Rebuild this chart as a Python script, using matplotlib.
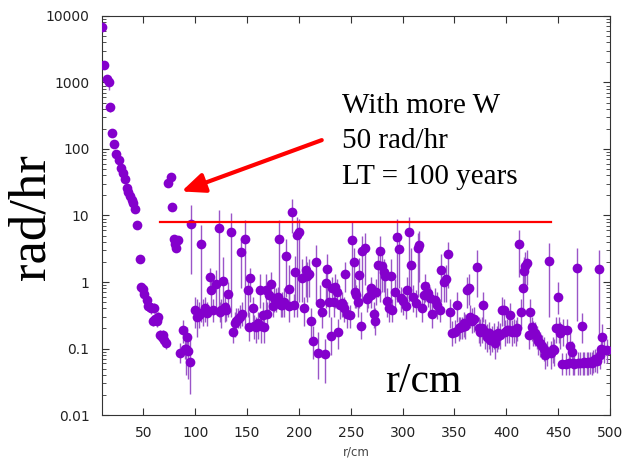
import numpy as np
import matplotlib.pyplot as plt

# dose rate vs radius (r in cm, rate in rad/hr, error bar low/high)
r_cm = [10, 12, 14.5, 16.7, 17.7, 20, 22, 24, 26, 28, 30.5, 32, 33.7, 35, 37, 38.5, 40, 42, 44, 46.5,
        48, 49.7, 51, 53, 54.5, 56, 57.5, 59, 60.5, 61.5, 63, 64.5, 66, 67.5, 69, 70, 71.5,
        73.8, 76.3, 77.6, 79, 80.5, 81.5, 83,
        85.5, 88, 89.8, 91, 92, 93, 95,
        96, 99.5, 102, 104, 105.7, 107, 109, 111, 114, 115.5, 117, 120, 122.8, 123.5, 125, 127, 128.5,
        130, 131.5, 134, 136, 138, 139.5, 141, 142.7, 144, 145, 147.5, 150.7, 152, 153, 155.5, 157,
        158.7, 160.5, 162, 163.5, 165, 166, 168, 169.5, 171.5, 173, 174.7, 176, 177.5, 179.5, 181,
        182.7, 184, 185.5, 187.5, 190, 190.8, 193.3, 195.6, 196.5, 197.8, 200, 203, 205, 207, 208,
        209.5, 211.6, 213.8, 216.5, 218, 220, 222.7, 225.4, 226, 227.5, 229, 230.8, 231.7, 233.5,
        235, 236.5, 238, 239.5, 241.3, 243, 244.6, 246.8, 249, 251, 253, 254.5, 255.5, 257, 258,
        259.6, 261, 263.8, 265.5, 267, 269.3, 270, 272, 273, 274.5, 276.5, 278, 280.5, 282, 283.5,
        285.3, 287, 288.5, 290, 292.7, 295, 296.5, 298.7, 300.7, 303, 304.5, 306, 308.5, 310.3,
        312.5, 315, 316.3, 318.3, 320.6, 322, 324.6, 326.3, 328.6, 330.8, 333.3, 336, 337.5, 339.8,
        341.4, 344, 345.6, 347.8, 350.4, 352.6, 354, 355.8, 357, 359, 360.6, 362.2, 364, 365.5, 367,
        369, 372, 373.5, 375, 376.5, 378, 379.5, 381.5, 383, 384.6, 386, 388, 389.4, 391, 392.5,
        394, 395.8, 397.5, 399, 400.5, 402.3, 404, 405.5, 407, 409.2, 410.5, 412, 414.5, 415.8,
        416.7, 418.3, 420, 421.5, 423, 424.6, 426, 427.5, 429.5, 431, 432.6, 434.5, 436, 437.5,
        439, 441.4, 443.3, 445, 446.5, 448, 449.7, 451, 452, 453.5, 455, 457.3, 459, 460.5, 461.6,
        463, 464.5, 465.8, 468, 469.6, 471, 472.7, 474, 475.3, 477.6, 479, 480.8, 482.5, 484,
        485.5, 487.2, 489, 490, 491.3, 492.7, 494.6, 496.8]

rate = [6800, 1830, 1130, 1000, 433, 172, 119, 84, 68, 51, 43, 35, 25.6, 22.8, 19.6, 17.1, 15.2, 12.4, 7.2, 2.25,
        0.85, 0.78, 0.66, 0.54, 0.44, 0.42, 0.40, 0.26, 0.41, 0.28, 0.26, 0.30, 0.16, 0.15, 0.16, 0.135, 0.12,
        30.5, 38, 13.3, 4.5, 3.7, 3.2, 4.3,
        0.086, 0.19, 0.097, 0.10, 0.15, 0.093, 0.063,
        7.4, 0.38, 0.30, 0.32, 3.7, 0.36, 0.41, 0.34, 1.18, 0.76, 0.38, 0.93, 6.4, 0.35, 0.38, 1.02, 0.42,
        0.38, 0.67, 5.7, 0.18, 0.24, 0.26, 0.28, 0.30, 2.86, 0.33, 4.5, 0.76, 0.21, 1.13, 0.41, 0.22,
        0.21, 0.24, 0.76, 0.22, 0.32, 0.21, 0.76, 0.33, 0.64, 0.93, 0.43, 0.57, 0.55, 0.60, 4.5,
        0.45, 0.45, 0.50, 2.46, 0.78, 0.43, 11.4, 0.45, 1.43, 5.1, 5.7, 1.16, 0.40, 1.51, 1.21,
        1.34, 0.26, 0.13, 2.0, 0.086, 0.49, 0.35, 0.083, 0.95, 1.55, 0.50, 0.155, 0.81, 0.50,
        0.83, 0.71, 0.18, 0.45, 0.49, 0.40, 1.34, 0.33, 0.32, 4.3, 2.0, 0.70, 0.64, 0.50, 1.26,
        0.22, 2.9, 3.3, 0.55, 0.60, 0.64, 0.81, 0.33, 0.26, 0.71, 1.8, 2.9, 1.75, 1.40, 1.21,
        0.52, 0.40, 1.21, 0.38, 0.71, 4.8, 3.1, 0.57, 0.52, 0.43, 0.76, 5.7, 1.8, 0.60,
        0.49, 3.2, 3.6, 0.40, 0.64, 0.88, 0.68, 0.57, 0.33, 0.54, 0.45, 0.38, 1.51, 1.01,
        1.1, 2.6, 0.36, 0.17, 0.18, 0.45, 0.20, 0.21, 0.21, 0.24, 0.22, 0.76, 0.80, 0.30, 0.26,
        0.28, 1.7, 0.20, 0.18, 0.20, 0.45, 0.18, 0.15, 0.17, 0.135, 0.15, 0.16, 0.12, 0.15, 0.17,
        0.16, 0.38, 0.38, 0.18, 0.19, 0.19, 0.32, 0.18, 0.19, 0.18, 0.20, 3.7, 0.35, 0.81,
        1.48, 1.75, 1.95, 0.16, 0.36, 0.21, 0.18, 0.17, 0.15, 0.13, 0.12, 0.11, 0.10, 0.08,
        0.09, 2.1, 0.087, 0.10, 0.095, 0.20, 0.59, 0.20, 0.17, 0.058, 0.19, 0.058, 0.19, 0.06, 0.11,
        0.09, 0.06, 0.058, 1.6, 0.06, 0.06, 0.22, 0.06, 0.062, 0.06, 0.062, 0.063, 0.06, 0.065,
        0.07, 0.065, 1.55, 0.08, 0.10, 0.15, 0.095, 0.095]

rate_lo = [6200, 1650, 1000, 780, 360, 150, 108, 77, 62, 47, 39, 32, 23.5, 21, 18, 15.8, 14, 11.4, 6.6, 2.0,
           0.76, 0.70, 0.58, 0.47, 0.37, 0.35, 0.33, 0.22, 0.34, 0.23, 0.21, 0.25, 0.13, 0.125, 0.13, 0.11, 0.10,
           28, 35, 12.2, 4.1, 3.3, 2.8, 3.9,
           0.06, 0.12, 0.07, 0.04, 0.10, 0.035, 0.021,
           1.3, 0.2, 0.15, 0.2, 0.25, 0.22, 0.25, 0.22, 0.7, 0.4, 0.25, 0.35, 0.3, 0.25, 0.2, 0.4, 0.25,
           0.26, 0.3, 0.3, 0.12, 0.15, 0.18, 0.2, 0.2, 0.8, 0.22, 0.2, 0.3, 0.13, 0.5, 0.2, 0.14,
           0.12, 0.14, 0.4, 0.12, 0.2, 0.12, 0.35, 0.2, 0.3, 0.5, 0.3, 0.35, 0.35, 0.4, 0.4,
           0.3, 0.3, 0.3, 0.6, 0.4, 0.25, 5.5, 0.3, 0.5, 0.3, 0.5, 0.5, 0.22, 0.6, 0.5,
           0.6, 0.15, 0.07, 0.5, 0.035, 0.3, 0.2, 0.03, 0.4, 0.5, 0.3, 0.08, 0.5, 0.3,
           0.4, 0.4, 0.1, 0.28, 0.3, 0.25, 0.7, 0.2, 0.2, 0.7, 0.8, 0.4, 0.4, 0.3, 0.4,
           0.14, 0.5, 0.9, 0.35, 0.4, 0.4, 0.5, 0.2, 0.16, 0.45, 0.6, 0.5, 0.7, 0.7, 0.6,
           0.3, 0.25, 0.5, 0.25, 0.4, 0.5, 0.8, 0.35, 0.32, 0.28, 0.4, 0.5, 0.6, 0.35,
           0.3, 0.6, 1.0, 0.25, 0.4, 0.5, 0.42, 0.35, 0.2, 0.35, 0.28, 0.25, 0.5, 0.5,
           0.5, 0.8, 0.2, 0.11, 0.12, 0.25, 0.13, 0.14, 0.14, 0.15, 0.14, 0.4, 0.45, 0.2, 0.17,
           0.18, 0.6, 0.12, 0.11, 0.12, 0.25, 0.1, 0.09, 0.1, 0.08, 0.09, 0.1, 0.07, 0.09, 0.1,
           0.1, 0.22, 0.22, 0.11, 0.12, 0.12, 0.2, 0.11, 0.12, 0.11, 0.13, 1.2, 0.2, 0.4,
           0.7, 0.8, 0.9, 0.1, 0.2, 0.13, 0.11, 0.11, 0.1, 0.08, 0.075, 0.07, 0.065, 0.05,
           0.055, 0.3, 0.05, 0.06, 0.055, 0.12, 0.33, 0.12, 0.1, 0.04, 0.11, 0.04, 0.11, 0.04, 0.06,
           0.055, 0.04, 0.04, 0.26, 0.04, 0.04, 0.12, 0.04, 0.04, 0.04, 0.04, 0.042, 0.04, 0.043,
           0.045, 0.043, 0.135, 0.05, 0.065, 0.09, 0.06, 0.06]

rate_hi = [7300, 2000, 1300, 1100, 480, 195, 130, 92, 74, 56, 47, 38, 28, 25, 21.5, 18.5, 16.5, 13.4, 7.8, 2.5,
           0.95, 0.88, 0.75, 0.62, 0.52, 0.5, 0.48, 0.31, 0.49, 0.34, 0.32, 0.36, 0.19, 0.18, 0.19, 0.16, 0.145,
           33, 41, 14.5, 4.9, 4.1, 3.5, 4.7,
           0.12, 0.27, 0.14, 0.17, 0.21, 0.15, 0.15,
           14.4, 0.6, 0.55, 0.5, 7.1, 0.55, 0.6, 0.5, 1.6, 1.1, 0.55, 1.5, 12, 0.5, 0.55, 2.4, 0.6,
           0.5, 1.0, 11, 0.26, 0.35, 0.4, 0.4, 0.45, 4.6, 0.5, 8.5, 1.1, 0.35, 1.6, 0.6, 0.32,
           0.3, 0.35, 1.3, 0.32, 0.5, 0.3, 1.3, 0.5, 1.0, 1.4, 0.6, 0.9, 0.8, 0.85, 8.5,
           0.65, 0.7, 0.8, 4.5, 1.8, 0.7, 18, 0.65, 2.5, 9.5, 9.0, 2.2, 0.6, 2.5, 2.0,
           2.2, 0.4, 0.22, 3.6, 0.18, 0.9, 0.55, 0.14, 1.6, 2.6, 0.8, 0.3, 1.2, 0.8,
           1.3, 1.1, 0.28, 0.65, 0.7, 0.6, 2.0, 0.5, 0.45, 8.0, 3.2, 1.1, 0.9, 0.75, 2.3,
           0.35, 5.0, 5.5, 0.8, 0.9, 1.0, 1.2, 0.5, 0.4, 1.1, 3.2, 5.0, 2.8, 2.2, 2.0,
           0.8, 0.6, 2.2, 0.55, 1.1, 9.0, 5.5, 0.85, 0.8, 0.62, 1.2, 9.5, 3.3, 0.9,
           0.75, 5.5, 5.8, 0.6, 1.0, 1.3, 1.0, 0.85, 0.5, 0.8, 0.7, 0.55, 2.6, 1.6,
           1.8, 4.0, 0.55, 0.26, 0.27, 0.7, 0.3, 0.3, 0.3, 0.35, 0.33, 1.2, 1.3, 0.45, 0.4,
           0.42, 3.0, 0.3, 0.28, 0.3, 0.7, 0.28, 0.23, 0.25, 0.2, 0.22, 0.24, 0.18, 0.22, 0.26,
           0.24, 0.6, 0.55, 0.27, 0.28, 0.28, 0.48, 0.27, 0.28, 0.27, 0.3, 6.0, 0.55, 1.3,
           2.4, 2.8, 3.0, 0.24, 0.55, 0.3, 0.26, 0.25, 0.22, 0.19, 0.18, 0.16, 0.15, 0.12,
           0.13, 3.9, 0.13, 0.15, 0.14, 0.3, 1.0, 0.3, 0.25, 0.085, 0.28, 0.085, 0.28, 0.088, 0.17,
           0.13, 0.088, 0.085, 3.3, 0.088, 0.09, 0.34, 0.09, 0.09, 0.088, 0.09, 0.09, 0.09, 0.095,
           0.1, 0.095, 3.0, 0.11, 0.15, 0.23, 0.14, 0.14]

limit_rate = 8.1
limit_r = [65.7, 443.6]
note_lines = ['With more W', '50 rad/hr', 'LT = 100 years']

r = np.array(r_cm)
y = np.array(rate)
err = [y - np.array(rate_lo), np.array(rate_hi) - y]

fig = plt.figure(figsize=(6.23, 4.62), dpi=100)
ax = fig.add_axes([0.1637, 0.1017, 0.8153, 0.8637])

ax.errorbar(r, y, yerr=err, fmt='o', color='#8400cc', ecolor='#9a55c8', elinewidth=1,
            capsize=3.5, capthick=1, markersize=7, markeredgewidth=0, zorder=3)

ax.set_yscale('log')
ax.set_xlim(10, 500)
ax.set_ylim(0.01, 10000)
ax.set_xticks(range(50, 501, 50))
ax.set_yticks([0.01, 0.1, 1, 10, 100, 1000, 10000])
ax.set_yticklabels(['0.01', '0.1', '1', '10', '100', '1000', '10000'])
ax.tick_params(which='both', direction='in', top=True, right=True, labelsize=10,
               labelcolor='#222222', color='#333333')
ax.tick_params(which='major', length=5)
ax.tick_params(which='minor', length=3)
ax.tick_params(axis='y', which='major', pad=9)
ax.tick_params(axis='x', which='major', pad=8)
ax.tick_params(axis='x', which='minor', bottom=False, top=False)
for s in ax.spines.values():
    s.set_color('#333333')
ax.set_xlabel('r/cm', fontsize=8.5, color='#444444', labelpad=4)

ax.plot(limit_r, [limit_rate, limit_rate], color='red', lw=1.6, zorder=5)

ax.annotate('', xy=(86.7, 23), xytext=(222, 136),
            arrowprops=dict(arrowstyle='-|>,head_length=1.4,head_width=0.6', color='red', lw=3,
                            shrinkA=0, shrinkB=0), zorder=6)

serif = ['Liberation Serif', 'DejaVu Serif']
for i, line in enumerate(note_lines):
    fig.text(342 / 623, 1 - (113 + 35.5 * i) / 462, line, family=serif,
             fontsize=21, va='baseline', ha='left')
fig.text(385 / 623, 1 - 392 / 462, 'r/cm', family=serif, fontsize=30, va='baseline', ha='left')
fig.text(32 / 623, 1 - 217 / 462, 'rad/hr', family=serif, fontsize=38, rotation=90,
         va='center', ha='center')

fig.savefig('out.png', dpi=100)
